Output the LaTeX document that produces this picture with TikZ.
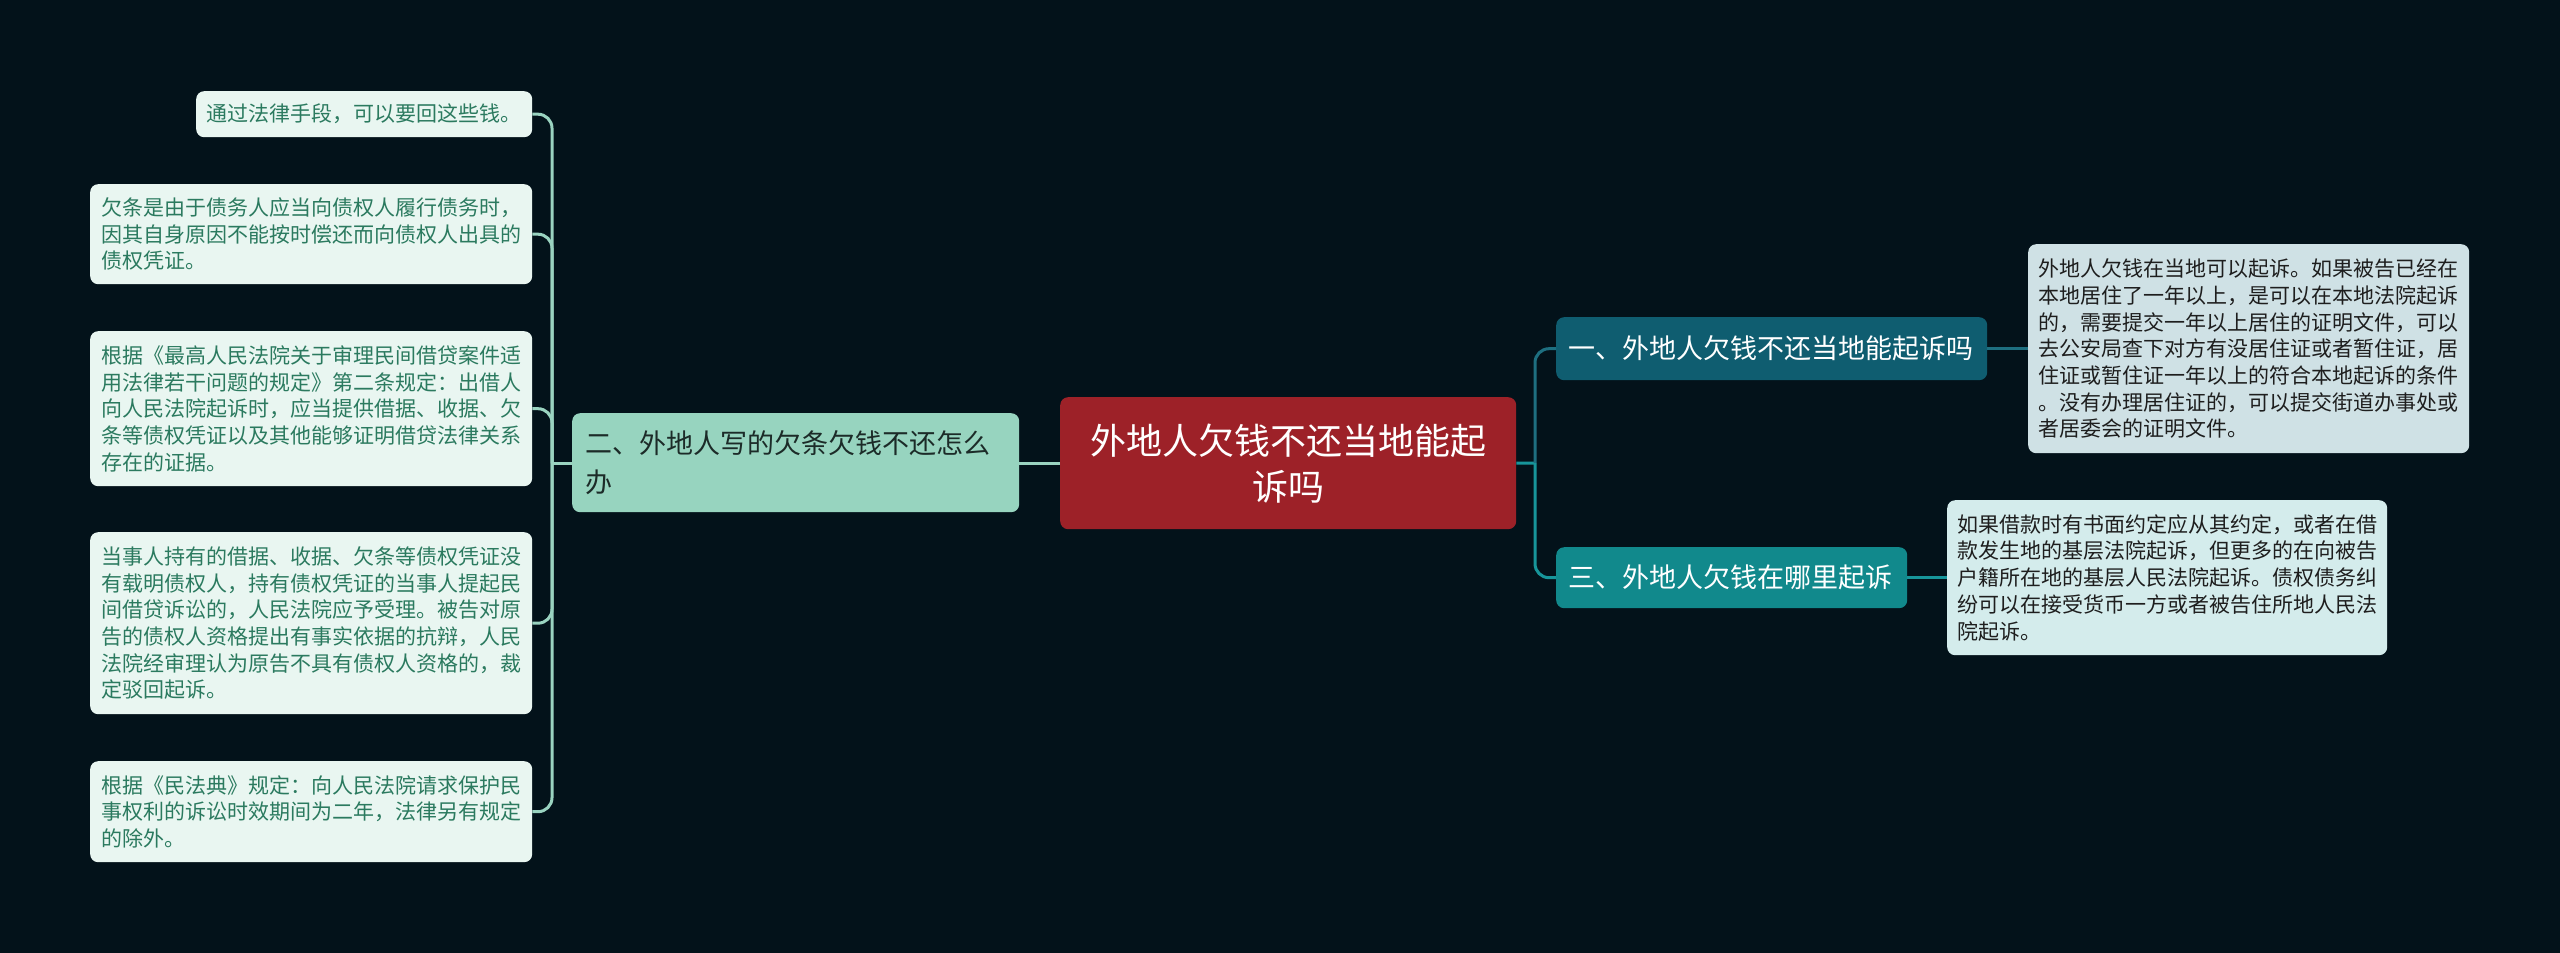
\documentclass[tikz,border=0pt]{standalone}
\usepackage{fontspec}
\newfontfamily\cjk{Noto Sans CJK SC}
\definecolor{bgc}{HTML}{03121A}
\definecolor{rootc}{HTML}{9D2128}
\definecolor{lbc}{HTML}{97D4BF}
\definecolor{lbtext}{HTML}{1C2B28}
\definecolor{leafl}{HTML}{E9F6F1}
\definecolor{leaflt}{HTML}{2B7A5F}
\definecolor{bonec}{HTML}{0F5D70}
\definecolor{bthreec}{HTML}{11898C}
\definecolor{rleafone}{HTML}{CFE1E5}
\definecolor{rleafthree}{HTML}{D4ECEC}
\definecolor{rtext}{HTML}{1E1E1E}
\definecolor{linel}{HTML}{9AD3C0}
\definecolor{lineone}{HTML}{1E6F80}
\definecolor{linethree}{HTML}{17959A}
\begin{document}
\begin{tikzpicture}[x=1pt,y=-1pt,
  boxbase/.style={anchor=north west, rounded corners=8pt, inner ysep=0pt, align=left},
  leafsmall/.style={boxbase, font={\cjk\fontsize{21}{26.7}\selectfont}},
  leftleaf/.style={leafsmall, fill=leafl, text=leaflt},
  branchfont/.style={boxbase, font={\cjk\fontsize{27}{39}\selectfont}},
  conn/.style={line width=3pt},
]
\useasboundingbox (0,0) rectangle (2560,953);
\fill[bgc] (0,0) rectangle (2560,953);

% root
\node[anchor=north west, rounded corners=8pt, fill=rootc, text=white, align=center,
  font={\cjk\fontsize{36}{46}\selectfont}, minimum width=456pt, minimum height=132pt,
  inner sep=0pt] (root) at (1060,397) {外地人欠钱不还当地能起\\诉吗};

% left branch
\node[branchfont, fill=lbc, text=lbtext, inner xsep=13pt, text width=421pt,
  minimum height=99pt] (lb) at (572,413) {二、外地人写的欠条欠钱不还怎么\\办};

% right branches
\node[branchfont, fill=bonec, text=white, inner xsep=12pt, text width=407pt,
  minimum height=63pt] (b1) at (1556,317) {一、外地人欠钱不还当地能起诉吗};
\node[branchfont, fill=bthreec, text=white, inner xsep=12pt, text width=327pt,
  minimum height=61pt] (b3) at (1556,547) {三、外地人欠钱在哪里起诉};

% left leaves
\node[leftleaf, inner xsep=10pt, text width=316pt, minimum height=46pt] (l1) at (196,91)
  {通过法律手段，可以要回这些钱。};
\node[leftleaf, inner xsep=11pt, text width=420pt, minimum height=100pt] (l2) at (90,184)
  {欠条是由于债务人应当向债权人履行债务时，\\因其自身原因不能按时偿还而向债权人出具的\\债权凭证。};
\node[leftleaf, inner xsep=11pt, text width=420pt, minimum height=155pt] (l3) at (90,331)
  {根据《最高人民法院关于审理民间借贷案件适\\用法律若干问题的规定》第二条规定：出借人\\向人民法院起诉时，应当提供借据、收据、欠\\条等债权凭证以及其他能够证明借贷法律关系\\存在的证据。};
\node[leftleaf, inner xsep=11pt, text width=420pt, minimum height=182pt] (l4) at (90,532)
  {当事人持有的借据、收据、欠条等债权凭证没\\有载明债权人，持有债权凭证的当事人提起民\\间借贷诉讼的，人民法院应予受理。被告对原\\告的债权人资格提出有事实依据的抗辩，人民\\法院经审理认为原告不具有债权人资格的，裁\\定驳回起诉。};
\node[leftleaf, inner xsep=11pt, text width=420pt, minimum height=101pt] (l5) at (90,761)
  {根据《民法典》规定：向人民法院请求保护民\\事权利的诉讼时效期间为二年，法律另有规定\\的除外。};

% right leaves
\node[leafsmall, fill=rleafone, text=rtext, inner xsep=10pt, text width=421pt,
  minimum height=209pt] (r1) at (2028,244)
  {外地人欠钱在当地可以起诉。如果被告已经在\\本地居住了一年以上，是可以在本地法院起诉\\的，需要提交一年以上居住的证明文件，可以\\去公安局查下对方有没居住证或者暂住证，居\\住证或暂住证一年以上的符合本地起诉的条件\\。没有办理居住证的，可以提交街道办事处或\\者居委会的证明文件。};
\node[leafsmall, fill=rleafthree, text=rtext, inner xsep=10pt, text width=420pt,
  minimum height=155pt] (r3) at (1947,500)
  {如果借款时有书面约定应从其约定，或者在借\\款发生地的基层法院起诉，但更多的在向被告\\户籍所在地的基层人民法院起诉。债权债务纠\\纷可以在接受货币一方或者被告住所地人民法\\院起诉。};

% connectors left
\coordinate (ls) at (552,463);
\draw[conn, linel] (root.west) -- (root.west -| lb.east);
\draw[conn, linel] (lb.west |- ls) -- (ls);
\foreach \n in {l1,l2,l3,l4,l5}
  \draw[conn, linel, rounded corners=14pt] (ls) |- (\n.east);

% connectors right
\coordinate (rs) at (1535,463);
\draw[conn, linethree] (root.east) -- (rs);
\draw[conn, lineone, rounded corners=14pt] (rs) |- (b1.west);
\draw[conn, linethree, rounded corners=14pt] (rs) |- (b3.west);
\draw[conn, lineone] (b1.east) -- (r1.west |- b1.east);
\draw[conn, linethree] (b3.east) -- (r3.west |- b3.east);
\end{tikzpicture}
\end{document}
